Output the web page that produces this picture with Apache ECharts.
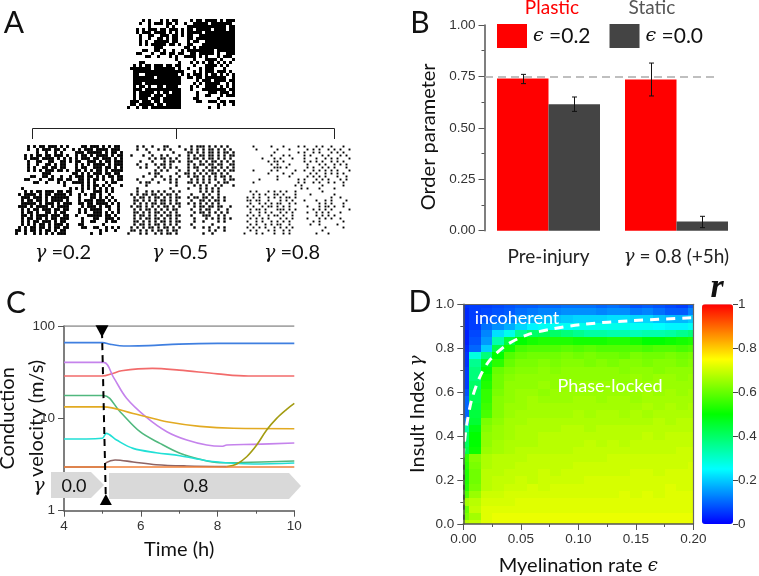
<!DOCTYPE html>
<html><head><meta charset="utf-8">
<style>html,body{margin:0;padding:0;background:#fff}#c{width:759px;height:576px}#c canvas{filter:blur(.4px)}</style>
<script src="https://cdn.jsdelivr.net/npm/echarts@6/dist/echarts.min.js"></script>
</head><body><div id="c"></div>
<script>
// ---------- Panel A: adjacency matrices (read by eye, # = connection)
const matrixTop = [
".....#.#...#.#.##....#.##.####.#.###",
"....#..#.###.##.#..#..#####.#######.",
".......#.....#.#....#############.##",
"...#.#.###.##.###.#.##.#####.####.##",
"...#.###.####.#.#.#.#####.##########",
"....#..##..###.##.#.##..############",
"....#..#..##.#.##...##.#############",
"....#.#..#####.##...#.##..##########",
"....#.#.#####.##.#..##...###########",
".........###.......##.#.############",
".....##..##.#..#..#.#########.######",
"...##...#..##.##.##..##.#####.#..###",
"......##..#...#.#..####.#.#...#.###.",
"................#.....#...####.#...#",
"....##...........#...#.#.#.##.#.#.#.",
"..#.#.##.###.##.##....#...####.#.#..",
".#######.#######.#..#...#.###...#...",
"..#################...#.#.###.###.#.",
"..##..###########.#.#.###.#.##.#.#.#",
"..#######.########..##.##.#######..#",
"..################.....#.###.####.##",
"..###.############....#.#.#####..#.#",
"..#.##.#..##.####....#.#..####.#.#.#",
"..###.############...#...########.##",
"..#.#####.#.##.###.....#...###.###.#",
"..#.####.###.#####.....#..##...#.###",
"..#.###.###.######....##......#.....",
".###.###.##.######.....##..###.##.##",
".##.#####.##.#####............#.#..#",
"#..#.##.##########.........#..#....."];
const matrixG2 = [
"....#.#.##.###.#.#....##.###.#.#.##.",
"....#..#.###.##.#..#.#.###.####.###.",
".......#..#..#.#....###.#####.#.##.#",
"...#.#.##.##.###.#..#.##.#.####.#.##",
"...#.###.####.#.#.#.#.###.##.###.#.#",
"....#..##..##..##.#.##..###.#.##.###",
"....#..#..##.#.##...#.#.#.####.#.###",
"....#.#..##.##.##...#.##..###.##.#.#",
"....#.#.#.###.##.#..##.#.#.##.#.####",
".........###.......##.#.#.###.##.##.",
".....##..##.#..#..#.###.##.#.#.##.##",
"...##...#..##.##.##..##.#.##.#..#.##",
"......##..#...#.#..####.#.#...#.##..",
"................#.....#.#.##.#.#...#",
"..#...............#.#.#.#.#.#.#.#...",
"...#.#.##.###.##.##...#...###.#.#...",
".#.####.#.##.####.#..#.#.##.#..#....",
"..###.###.#.######...#...##.#.#.#...",
"..#.##.##.#.####.#...#.###.###.#.#..",
"..#####.#.###.#.###..##.##.####.#.#.",
".###.#.####.#.####....#.###.#.##..#.",
"..#.#.##.###.##.##...#.#.####..#..#.",
"..#.##.#..##.#.##....#.#..###.#.#.#.",
"..##.#.####.###.##..#...#####.##.#..",
"..#.##.##.#.##.###....#...##..###.#.",
"..#.#.##.###.#.##.....#..##...#.##..",
"..#.#.#.##.#.###.#...##......#......",
".#.#.##.##.#.##.##....##..##..#.#.#.",
"##.#.##.#.##.#.##...........#.#..#..",
"#..#..#.#.#.#.###........#..#......."];
const matrixG5 = [
"...#.#..#...##...#...#.###.#.#.#.#..",
"...#..#...#.#.#....#.#.#.#.##.#.#.#.",
".......#.......#....##.#.#.##.#.##.#",
".#...#..#..#.#...#..#.#.##.##.#.#.##",
".......#.#.##.#.#...#.##.#.##.#.#.#.",
"....#...#...#.##.#..##..#.#.##.#.#.#",
"...#..#..#.##.#.....#.#.##.##.##..##",
"....#.#...#.#.#.#...#.##..#.##.#.#.#",
".........#.#.#...#..#..#.#.##.#.#.##",
".......#.##.....#..##.#.#.#.##.#.#..",
".....#...#.#..#..#..#.##.#.#.#.##.#.",
"...#....#...#.#.#....#.#.#.#.#..#.##",
"....#.##..#...#.#...##.#.#.#..#.##..",
"......#.........#.....#.#.#..#.#...#",
"...#..........#.....#...#.#.#.#.....",
"...#..#.#.#.#..#.#......#.#.#.#.....",
".#.#.##.##.#.##.#....#...#.#..#.....",
"..#.##.#.##.#.#.##..#.##.##.#.#.#...",
"..##.#.#.#.##.#.#....#..##.#.##.#...",
"..#.#.#.##.##.#.##..#.#.#.#.#.#.....",
".#.##.#.#.#.##.#.#....#.##.##.##..#.",
"..#.#.##.#.#.#.##....#..#.##..#..#..",
"..##.#.#.##.#.#.#.....#.##.#.#.#.#..",
"..#.##.#.#.#.##.##...#...###..#.#...",
"..#.#.##.##.#.#.#.....#...#.#.#.#.#.",
"..##.#.#.#.##.#.##....#..#....#.#...",
"..#.##.#.##.#.#.#....#......#.......",
".#.#.#.##.#.##.#.#....#..#.#..#.#...",
".##.#.#.#.##.#.##..........#.#..#...",
"#...#.#..#.#.##.#........#..#......."];
const matrixG8 = [
"...#.....#...#....#.#...#.#..#...#..",
"....#......#...#.....#.#.#..#.#.#..#",
"..........#.......#.#..#.#...#.#.#..",
".........#...#.#....#.#...#.#...#.#.",
"......#...#.#...#...#...#..#.#.#...#",
"........#.##.#......#.#.#.#..#.#.#..",
".........#.#...#.....#...#.#..#.#.#.",
"..........###.#......#.#..#.#.#...#.",
"...#.....#.#.....#..#..#.#.#.#.#...#",
"........#....#..#.....#.#..#.#.#.#..",
"...........#...#.....#.#.#.#...#..#.",
".....#.....#......#.#...#.#.#...#.#.",
"...#..............#.#..#.#..#.#..#..",
".................#.#......#......#..",
"...................#.#...#....#.....",
"..#.#...#.#.#.#..#........#.........",
"...#.#.#..##.#...#....#.......#.....",
".#.#.#..#.#.#.##.#...........#..#...",
".##.##..#...#.#.#...#...#..#.#....#.",
"..#..#.#.#.##..#.#.......#.#.#...#..",
".#.#..#.##.#.#.#.....#...#.##.#..#..",
"..#.##.#...###.#.#.....#.#.#.#.....#",
"..#..#.#.#..#.#.#....#..#.#.#...#...",
".#.#.#..#.##.#..#.......#.#.#.#.....",
"..#.#.#.#...#.#.#....#...#.#.#..#...",
".#..#.#..#.#.#.#.......#.#.......#..",
"..#.#..#.#.##..#......#..#.....#....",
".#.#.#.#..#.#.#.#..........#.....#..",
"..#.#...#.#..#.#..........#.........",
"#...#.#...#..#.#........#...#......."];
// ---------- Panel B
const barCategories = ["Pre-injury", "{g|γ} = 0.8 (+5h)"];
const plasticValues = [0.74, 0.735];
const staticValues = [0.615, 0.045];
const plasticErr = [[0.715, 0.76], [0.655, 0.815]];
const staticErr = [[0.58, 0.65], [0.015, 0.07]];
const refLevel = [0.748];
// ---------- Panel C [hour, velocity]
const lineGray = [[4,100],[10,100]];
const lineBlue = [[4,66],[5,66],[5.2,63.5],[5.45,61.2],[5.7,60.7],[6.2,61.3],[7,63.7],[8,64.8],[10,64.9]];
const lineRed = [[4,28.7],[5,28.7],[5.25,30.4],[5.5,32.8],[6.3,34.8],[7,33.3],[8,30.3],[8.8,28.7],[10,28.7]];
const linePurple = [[4,40.4],[5.03,40.4],[5.29,27.8],[5.63,16.5],[6.15,10.25],[6.68,7.17],[7.2,5.82],[7.72,5.14],[8.11,4.98],[8.24,5.14],[8.93,5.23],[10,5.4]];
const lineGreen = [[4,17.7],[5.03,17.7],[5.46,11.8],[5.98,7.17],[6.5,5.36],[7.02,4.18],[7.54,3.6],[8.06,3.31],[8.59,3.33],[10,3.45]];
const lineGold = [[4,13.3],[5.03,13.3],[5.8,11.3],[6.15,10.4],[6.68,9.2],[7.54,8.19],[8.41,7.8],[10,7.73]];
const lineCyan = [[4,5.97],[5,6.1],[5.1,6.88],[5.37,5.82],[5.8,4.73],[6.4,4.25],[7.02,3.94],[7.72,3.48],[8.41,3.26],[8.93,3.2],[10,3.28]];
const lineBrown = [[4,2.97],[5.04,2.97],[5.1,3.31],[5.33,3.54],[5.8,3.37],[6.4,3.15],[7.2,3.05],[8.24,3.0]];
const lineOlive = [[8.24,3.0],[8.5,3.2],[8.76,3.84],[9.02,5.14],[9.28,7.48],[9.54,10],[9.8,12.5],[10,14.5]];
const lineOrange = [[4,2.97],[10,2.97]];
const injuryMark = [[4.99,88],[5.09,1.32]];
// ---------- Panel D: r in hundredths, rows from gamma=1.0 down, columns eps=0..0.2
const gammaStepCount = 30, epsStepCount = 20;
const heatRows = [
[5,6,6,7,8,9,9,10,10,11,11,11,10,11,10,8,9,8,7,6,9],
[4,6,7,8,9,11,12,13,13,14,14,14,13,14,14,12,13,11,9,9,13],
[4,6,8,10,12,15,17,18,19,20,21,21,21,22,22,21,21,19,18,18,20],
[4,6,11,14,17,21,24,26,26,26,27,27,27,27,27,26,26,25,24,24,26],
[3,7,13,22,27,36,40,41,40,38,36,34,34,33,33,32,33,33,34,36,38],
[3,8,15,33,44,50,52,53,53,53,52,52,52,53,53,52,50,50,51,52,53],
[4,10,20,43,52,57,58,58,58,59,58,59,58,58,58,58,57,58,58,57,58],
[5,28,38,50,58,60,61,61,61,62,61,62,61,61,60,62,61,61,62,61,62],
[5,36,47,54,60,62,62,63,62,63,63,62,63,62,63,63,62,63,63,62,63],
[6,38,50,60,62,63,63,64,63,64,64,64,64,64,63,64,64,63,64,64,64],
[6,38,52,61,63,64,64,64,64,64,64,64,64,64,64,65,64,65,65,64,65],
[6,40,53,61,64,64,64,65,64,65,65,65,65,65,64,65,65,65,65,65,65],
[8,42,55,62,64,65,65,64,65,65,65,65,65,65,65,65,66,65,66,65,66],
[10,42,55,63,64,65,66,65,65,65,66,66,65,66,66,65,66,66,66,66,66],
[10,43,56,63,65,65,66,66,66,66,66,66,66,66,66,66,67,66,67,66,67],
[10,44,57,63,65,66,66,66,66,66,67,66,67,67,66,67,66,67,67,67,67],
[14,45,62,64,66,66,67,67,67,67,67,67,67,67,67,67,67,68,67,68,68],
[34,48,63,65,66,67,67,67,67,68,68,67,68,68,68,68,68,68,68,68,68],
[40,50,64,65,66,67,67,68,68,68,68,68,68,68,68,68,69,68,69,69,69],
[41,50,64,66,67,67,67,68,68,68,68,69,68,69,68,69,69,69,69,69,69],
[43,51,65,66,67,68,68,68,68,68,69,69,69,69,69,69,69,69,69,70,70],
[55,63,67,68,68,68,69,69,69,69,69,69,69,70,70,70,70,70,70,70,70],
[54,62,67,68,68,69,69,69,69,69,70,70,70,70,70,70,70,70,70,70,71],
[53,61,68,68,69,69,69,70,69,70,70,70,70,70,70,71,71,70,71,71,71],
[53,61,68,69,69,70,69,70,70,70,70,71,71,71,71,71,71,71,71,71,71],
[54,62,68,69,70,70,71,70,71,71,71,71,71,71,71,71,71,71,72,71,71],
[58,65,70,70,71,71,71,71,71,71,71,71,71,71,72,71,72,71,72,72,72],
[66,68,71,71,71,72,72,72,72,72,72,72,72,72,72,72,72,72,72,72,72],
[60,69,72,72,72,72,72,72,72,72,72,72,72,72,72,72,72,72,72,72,72],
[62,66,72,73,73,73,73,73,73,73,73,73,73,73,73,73,73,73,73,73,73],
[68,69,72,73,73,73,73,73,73,73,73,73,73,73,73,73,73,73,73,73,73]];
const boundaryWhite = [[0,.303],[.0006,.352],[.0029,.45],[.0072,.564],[.0145,.671],[.0232,.747],[.0377,.815],[.055,.86],[.0754,.886],[.104,.909],[.148,.926],[.2,.939]];
const boundaryBlack = [[0.0005,.27],[0.0005,0]];
const jet = ['#0000ff','#00ffff','#00ff00','#ffff00','#ff0000'];

const SANS = 'Lato', ARIAL = '"Liberation Sans"', SERIF = '"DejaVu Serif"';
const chart = echarts.init(document.getElementById('c'), null, {renderer:'canvas'});

// grids
const matBoxes = [[127,19],[15,145],[127,145],[243,145]];
const grid = matBoxes.map(b=>({left:b[0],top:b[1],width:108,height:90}));
grid.push({left:484.5,top:25,width:256,height:205.7});   // 4 B
grid.push({left:64,top:326,width:230.3,height:184.7});   // 5 C
grid.push({left:463.3,top:304.3,width:230,height:219.7});// 6 D
grid.push({left:733,top:304.3,width:1,height:219.7});    // 7 colour bar axis
grid.forEach(g=>{g.outerBoundsMode='none';g.containLabel=false;});

const off = {show:false};
const xAxis = [], yAxis = [], series = [];
const dotSize=[3,2.9,2.4,1.9];
[matrixTop,matrixG2,matrixG5,matrixG8].forEach((m,i)=>{
  xAxis.push({gridIndex:i,type:'value',min:-.5,max:35.5,show:false});
  yAxis.push({gridIndex:i,type:'value',min:-.5,max:29.5,inverse:true,show:false});
  const pts=[]; m.forEach((row,r)=>{for(let c=0;c<row.length;c++) if(row[c]==='#') pts.push([c,r]);});
  series.push({type:'scatter',xAxisIndex:i,yAxisIndex:i,data:pts,symbol:'rect',symbolSize:dotSize[i],silent:true,
    itemStyle:{color:'#000',opacity:1},animation:false});
});
const axCol='#555';
// B axes (4)
xAxis.push({gridIndex:4,type:'category',data:barCategories,axisLine:off,axisTick:off,
  axisLabel:{interval:0,hideOverlap:false,margin:17,fontFamily:SANS,fontSize:19,color:'#222',
    rich:{g:{fontFamily:SERIF,fontStyle:'italic',fontSize:18,color:'#222'}}}});
yAxis.push({gridIndex:4,type:'value',min:0,max:1,interval:.25,splitLine:off,
  axisLine:{show:true,lineStyle:{color:axCol,width:1.5}},axisTick:{show:true,length:6,lineStyle:{color:axCol}},
  minorTick:{show:true,splitNumber:2,length:3,lineStyle:{color:axCol}},
  axisLabel:{formatter:v=>v.toFixed(2),fontFamily:ARIAL,fontSize:13.5,color:'#333',margin:9},
  name:'Order parameter',nameLocation:'middle',nameGap:46,nameRotate:90,
  nameTextStyle:{fontFamily:SANS,fontSize:20,color:'#111',padding:[0,18,0,0]}});
// C axes (5)
xAxis.push({gridIndex:5,type:'value',min:4,max:10,interval:2,splitLine:off,
  axisLine:{show:true,onZero:false,lineStyle:{color:axCol,width:1.5}},axisTick:{show:true,length:6,lineStyle:{color:axCol}},
  minorTick:{show:true,splitNumber:2,length:3,lineStyle:{color:axCol}},
  axisLabel:{fontFamily:ARIAL,fontSize:13.5,color:'#333',margin:9},
  name:'Time (h)',nameLocation:'middle',nameGap:29,nameTextStyle:{fontFamily:SANS,fontSize:20,color:'#111'}});
yAxis.push({gridIndex:5,type:'log',logBase:10,min:1,max:100,splitLine:off,
  axisLine:{show:true,onZero:false,lineStyle:{color:axCol,width:1.5}},axisTick:{show:true,length:6,lineStyle:{color:axCol}},
  axisLabel:{fontFamily:ARIAL,fontSize:13.5,color:'#333',margin:9},
  name:'Conduction\nvelocity (m/s)',nameLocation:'middle',nameGap:13,nameRotate:90,nameMoveOverlap:false,
  nameTextStyle:{fontFamily:SANS,fontSize:20,lineHeight:29,color:'#111'}});
// D axes (6)
xAxis.push({gridIndex:6,type:'value',min:0,max:.2,interval:.05,splitLine:off,z:5,
  axisLine:{show:true,onZero:false,lineStyle:{color:axCol,width:1.5}},axisTick:{show:true,length:6,lineStyle:{color:axCol}},
  minorTick:{show:true,splitNumber:2,length:3,lineStyle:{color:axCol}},
  axisLabel:{formatter:v=>v.toFixed(2),fontFamily:ARIAL,fontSize:13.5,color:'#333',margin:8},
  name:'Myelination rate {e|ϵ}',nameLocation:'middle',nameGap:32,
  nameTextStyle:{fontFamily:SANS,fontSize:20,color:'#111',rich:{e:{fontFamily:SERIF,fontStyle:'italic',fontSize:18,color:'#111'}}}});
yAxis.push({gridIndex:6,type:'value',min:0,max:1,interval:.2,splitLine:off,z:5,
  axisLine:{show:true,onZero:false,lineStyle:{color:axCol,width:1.5}},axisTick:{show:true,length:6,lineStyle:{color:axCol}},
  minorTick:{show:true,splitNumber:2,length:3,lineStyle:{color:axCol}},
  axisLabel:{formatter:v=>v.toFixed(1),fontFamily:ARIAL,fontSize:13.5,color:'#333',margin:9},
  name:'Insult Index {g|γ}',nameLocation:'middle',nameGap:36,nameRotate:90,
  nameTextStyle:{fontFamily:SANS,fontSize:20,color:'#111',rich:{g:{fontFamily:SERIF,fontStyle:'italic',fontSize:18,color:'#111'}}}});
// colour bar axis (7)
xAxis.push({gridIndex:7,type:'value',show:false,min:0,max:1});
yAxis.push({gridIndex:7,type:'value',position:'right',offset:0,min:0,max:1,interval:.2,splitLine:off,
  axisLine:off,axisTick:{show:true,length:5,lineStyle:{color:'#444'}},
  axisLabel:{formatter:v=>(v===0||v===1)?String(v):v.toFixed(1),fontFamily:ARIAL,fontSize:13.5,color:'#333',margin:4}});
// D frame (top, right): indices 8
xAxis.push({gridIndex:6,type:'value',position:'top',min:0,max:.2,z:5,axisLine:{show:true,onZero:false,lineStyle:{color:'#666',width:1.2}},axisTick:off,axisLabel:off,splitLine:off});
yAxis.push({gridIndex:6,type:'value',position:'right',min:0,max:1,z:5,axisLine:{show:true,onZero:false,lineStyle:{color:'#666',width:1.2}},axisTick:off,axisLabel:off,splitLine:off});

// B series
const plasticName='{e|ϵ} =0.2', staticName='{e|ϵ} =0.0';
series.push({name:plasticName,type:'bar',xAxisIndex:4,yAxisIndex:4,data:plasticValues,barWidth:51.5,barGap:0,itemStyle:{color:'#ff0000'},animation:false});
series.push({name:staticName,type:'bar',xAxisIndex:4,yAxisIndex:4,data:staticValues,barWidth:51.5,barGap:0,itemStyle:{color:'#444444'},animation:false});
function errSeries(err,dx){
  return {type:'custom',xAxisIndex:4,yAxisIndex:4,z:4,silent:true,animation:false,
    data:err.map((e,i)=>[i,e[0],e[1]]),
    renderItem(p,api){
      const lo=api.coord([api.value(0),api.value(1)]), hi=api.coord([api.value(0),api.value(2)]);
      const x=Math.round(lo[0]+dx)+.5, st={stroke:'#111',lineWidth:1};
      return {type:'group',children:[
        {type:'line',shape:{x1:x,y1:lo[1],x2:x,y2:hi[1]},style:st},
        {type:'line',shape:{x1:x-2.5,y1:lo[1],x2:x+2.5,y2:lo[1]},style:st},
        {type:'line',shape:{x1:x-2.5,y1:hi[1],x2:x+2.5,y2:hi[1]},style:st}]};
    }};
}
series.push(errSeries(plasticErr,-25.75), errSeries(staticErr,25.75));
series.push({type:'line',xAxisIndex:4,yAxisIndex:4,silent:true,animation:false,showSymbol:false,z:3,
  data:[],markLine:{silent:true,symbol:'none',animation:false,label:off,lineStyle:{color:'#aaa',type:[8,5],width:1.5},
    data:[[{x:485,yAxis:refLevel[0]},{x:717,yAxis:refLevel[0]}]]}});
// C series
[[lineGray,'#8a8a8a'],[lineBlue,'#3f7fe0'],[lineRed,'#f26b6b'],[linePurple,'#c583ec'],[lineGreen,'#50b87e'],
 [lineGold,'#e2aa22'],[lineCyan,'#22e0d6'],[lineOlive,'#a39c12'],[lineBrown,'#8d6464'],[lineOrange,'#f0803a']].forEach(([d,col])=>{
  series.push({type:'line',xAxisIndex:5,yAxisIndex:5,data:d,smooth:.35,showSymbol:false,silent:true,animation:false,
    lineStyle:{color:col,width:1.6},z:3});
});
series.push({type:'line',xAxisIndex:5,yAxisIndex:5,silent:true,animation:false,z:4,clip:false,
  data:[{value:injuryMark[0],symbol:'triangle',symbolRotate:180,symbolSize:[13,12]},{value:injuryMark[1],symbol:'triangle',symbolSize:[12,11]}],
  showSymbol:true,itemStyle:{color:'#000'},lineStyle:{color:'#000',type:[7,5],width:2}});
// D series
const cells=[];
heatRows.forEach((row,r)=>row.forEach((v,c)=>cells.push([c/epsStepCount*.2,1-r/gammaStepCount,v/100])));
const dE=.2/epsStepCount/2, dG=1/gammaStepCount/2;
const heatIndex=series.length;
series.push({type:'custom',xAxisIndex:6,yAxisIndex:6,silent:true,animation:false,clip:true,z:2,
  encode:{x:0,y:1},data:cells,
  renderItem(p,api){
    const a=api.coord([api.value(0)-dE,api.value(1)+dG]), b=api.coord([api.value(0)+dE,api.value(1)-dG]);
    const x0=Math.round(a[0]),y0=Math.round(a[1]),x1=Math.round(b[0]),y1=Math.round(b[1]);
    return {type:'rect',shape:echarts.graphic.clipRectByRect({x:x0,y:y0,width:x1-x0,height:y1-y0},
      {x:p.coordSys.x,y:p.coordSys.y,width:p.coordSys.width,height:p.coordSys.height}),style:{fill:api.visual('color')}};
  }});
series.push({type:'line',xAxisIndex:6,yAxisIndex:6,data:boundaryWhite,smooth:.3,showSymbol:false,silent:true,animation:false,z:4,clip:false,
  lineStyle:{color:'#fff',width:3,type:[9,7]}});
series.push({type:'line',xAxisIndex:6,yAxisIndex:6,data:boundaryBlack,showSymbol:false,silent:true,animation:false,z:4,clip:false,
  lineStyle:{color:'#111',width:1.5,type:[5,5]}});

// annotations
const txt=(x,y,text,fs,extra={})=>({type:'text',x,y,z:50,silent:true,style:Object.assign({text,fontFamily:SANS,fontSize:fs,fill:'#111',
  textAlign:'center',textVerticalAlign:'middle'},extra)});
const gammaRich={g:{fontFamily:SERIF,fontStyle:'italic',fontSize:19,fill:'#111'}};
const ln=(x1,y1,x2,y2)=>({type:'line',silent:true,shape:{x1,y1,x2,y2},style:{stroke:'#222',lineWidth:1}});
const poly=(pts)=>({type:'polygon',silent:true,z:1,shape:{points:pts},style:{fill:'#d9d9d9'}});
const graphic=[
  txt(14,23,'A',30),txt(420,23,'B',30),txt(16,303,'C',30),txt(420,302,'D',30),
  ln(32.5,128.5,334.5,128.5),ln(32.5,128.5,32.5,139),ln(176.5,128.5,176.5,139),ln(334.5,128.5,334.5,139),
  txt(63,253,'{g|γ} =0.2',20,{rich:gammaRich}),txt(180,253,'{g|γ} =0.5',20,{rich:gammaRich}),txt(292,253,'{g|γ} =0.8',20,{rich:gammaRich}),
  txt(552,8,'Plastic',19,{fill:'#ff0000'}),txt(652,8,'Static',19,{fill:'#555'}),
  poly([[51,472],[91,472],[104,485],[91,498],[51,498]]),
  poly([[109,473],[289,473],[301,486],[289,499],[109,499]]),
  txt(39,486,'γ',19,{fontFamily:SERIF,fontStyle:'italic'}),txt(74,486,'0.0',18),txt(196,486,'0.8',18),
  txt(517,318,'incoherent',18,{fill:'#fff'}),txt(610,386,'Phase-locked',18,{fill:'#fff'}),
  txt(717,288,'r',34,{fontFamily:'"Liberation Serif"',fontStyle:'italic',fontWeight:'bold'})
];

chart.setOption({
  animation:false,backgroundColor:'#fff',grid,xAxis,yAxis,series,graphic,
  legend:{data:[plasticName,staticName],icon:'rect',left:497,top:24,padding:0,itemWidth:30,itemHeight:24,itemGap:19,selectedMode:false,
    textStyle:{fontFamily:SANS,fontSize:21,color:'#111',padding:[0,0,0,1],
      rich:{e:{fontFamily:SERIF,fontStyle:'italic',fontSize:19,color:'#111'}}}},
  visualMap:{type:'continuous',seriesIndex:heatIndex,dimension:2,min:0,max:1,left:702,top:304.3,padding:0,
    itemWidth:31,itemHeight:219.7,calculable:false,hoverLink:false,text:null,inRange:{color:jet}}
});
</script></body></html>
